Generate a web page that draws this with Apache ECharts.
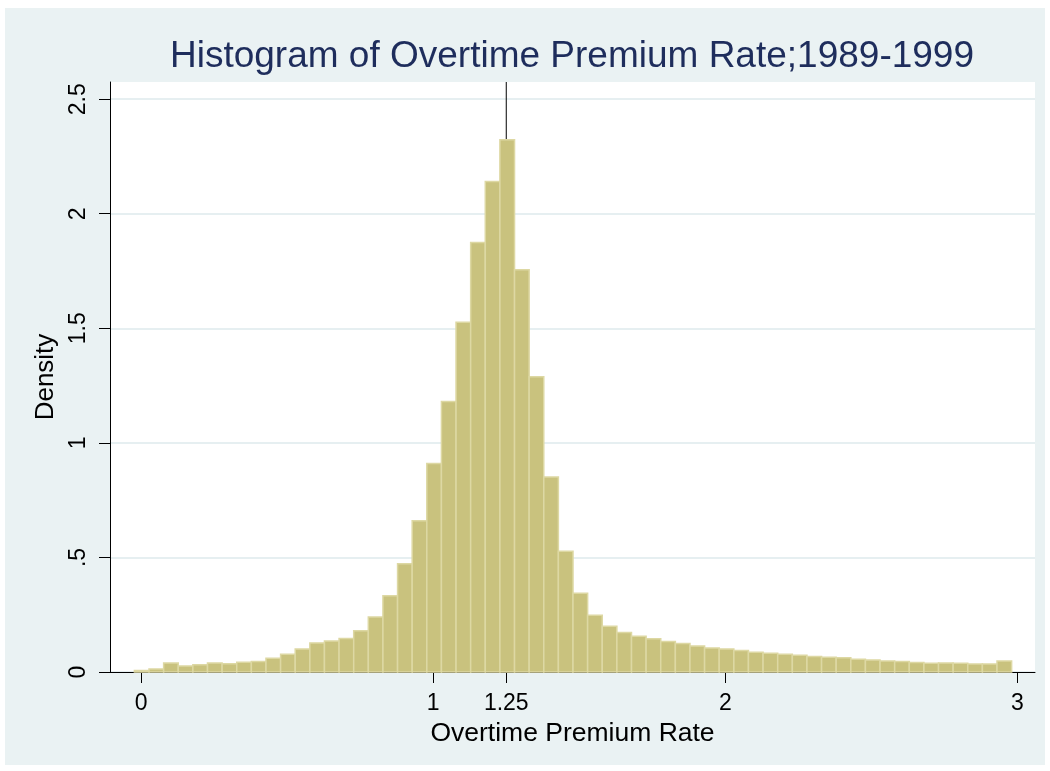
<!DOCTYPE html>
<html>
<head>
<meta charset="utf-8">
<script src="https://cdn.jsdelivr.net/npm/echarts@6/dist/echarts.min.js"></script>
<style>
  html, body { margin: 0; padding: 0; background: #ffffff; }
  #chart { width: 1050px; height: 771px; }
</style>
</head>
<body>
<div id="chart"></div>
<script>
// ---- Data ----
const titleText = 'Histogram of Overtime Premium Rate;1989-1999';
const xAxisTitle = 'Overtime Premium Rate';
const yAxisTitle = 'Density';
const binStart = -0.023;   // left edge of first bin
const binWidth = 0.05005;  // bin width
const densities = [
  0.007, 0.013, 0.039, 0.026, 0.032, 0.039, 0.036, 0.043, 0.046, 0.060,
  0.077, 0.100, 0.127, 0.135, 0.146, 0.180, 0.240, 0.333, 0.472, 0.660,
  0.910, 1.181, 1.526, 1.875, 2.141, 2.323, 1.756, 1.289, 0.851, 0.527,
  0.344, 0.248, 0.200, 0.172, 0.156, 0.145, 0.133, 0.124, 0.113, 0.105,
  0.100, 0.094, 0.086, 0.082, 0.077, 0.073, 0.068, 0.064, 0.062, 0.056,
  0.052, 0.048, 0.046, 0.042, 0.038, 0.039, 0.038, 0.035, 0.035, 0.048
];
const xTicks = [0, 1, 1.25, 2, 3];
const xTickLabels = ['0', '1', '1.25', '2', '3'];
const yTicks = [0, 0.5, 1, 1.5, 2, 2.5];
const yTickLabels = ['0', '.5', '1', '1.5', '2', '2.5'];
const xLineAt = 1.25;

// ---- Build ----
const FONT = "'Liberation Sans', Arial, sans-serif";
const xMin = -0.1065, xMax = 3.060;
const yMin = 0, yMax = 2.575;

const histData = densities.map((d, i) => [binStart + i * binWidth, binStart + (i + 1) * binWidth, d]);

const chart = echarts.init(document.getElementById('chart'), null, { renderer: 'canvas' });

const option = {
  backgroundColor: '#ffffff',
  animation: false,
  graphic: [
    {
      type: 'rect', z: -10, silent: true,
      shape: { x: 5, y: 8, width: 1040, height: 757 },
      style: { fill: '#eaf2f3' }
    },
    {
      type: 'text', z: 10,
      x: 572, y: 57,
      style: {
        text: titleText,
        fill: '#1e2d5c',
        font: '37px ' + FONT,
        align: 'center', verticalAlign: 'middle',
        textAlign: 'center', textVerticalAlign: 'middle'
      }
    }
  ],
  grid: {
    left: 110, right: 15, top: 82, bottom: 99,
    show: true, backgroundColor: '#ffffff', borderWidth: 0
  },
  xAxis: {
    type: 'value', min: xMin, max: xMax,
    name: xAxisTitle, nameLocation: 'middle', nameGap: 46,
    nameTextStyle: { fontFamily: FONT, fontSize: 26.5, color: '#000' },
    axisLine: { show: true, onZero: false, lineStyle: { color: '#000', width: 1 } },
    axisTick: { show: true, length: 11, lineStyle: { color: '#000', width: 1 }, customValues: xTicks },
    axisLabel: {
      customValues: xTicks, margin: 20,
      fontFamily: FONT, fontSize: 23, color: '#000',
      formatter: v => { const i = xTicks.indexOf(v); return i >= 0 ? xTickLabels[i] : ''; }
    },
    splitLine: { show: false }
  },
  yAxis: {
    type: 'value', min: yMin, max: yMax, interval: 0.5,
    name: yAxisTitle, nameLocation: 'middle', nameGap: 51,
    nameTextStyle: { fontFamily: FONT, fontSize: 26, color: '#000' },
    axisLine: { show: true, onZero: false, lineStyle: { color: '#000', width: 1 } },
    axisTick: { show: true, length: 11, lineStyle: { color: '#000', width: 1 }, customValues: yTicks },
    axisLabel: {
      customValues: yTicks, margin: 20, rotate: 90,
      fontFamily: FONT, fontSize: 23, color: '#000',
      formatter: v => { const i = yTicks.findIndex(t => Math.abs(t - v) < 1e-9); return i >= 0 ? yTickLabels[i] : ''; }
    },
    splitLine: { show: true, lineStyle: { color: '#e6eff1', width: 2 } }
  },
  series: [
    {
      type: 'line', z: 1, silent: true,
      data: [[xLineAt, yMin], [xLineAt, yMax]],
      symbol: 'none',
      lineStyle: { color: '#000', width: 1 }
    },
    {
      type: 'custom', z: 2, silent: true,
      data: histData,
      encode: { x: [0, 1], y: 2 },
      renderItem: function (params, api) {
        const p0 = api.coord([api.value(0), api.value(2)]);
        const p1 = api.coord([api.value(1), 0]);
        return {
          type: 'rect',
          shape: { x: p0[0], y: p0[1], width: p1[0] - p0[0], height: p1[1] - p0[1] },
          style: { fill: '#c9c27e', stroke: '#ddd8a3', lineWidth: 1.5 }
        };
      }
    }
  ]
};
chart.setOption(option);
</script>
</body>
</html>
